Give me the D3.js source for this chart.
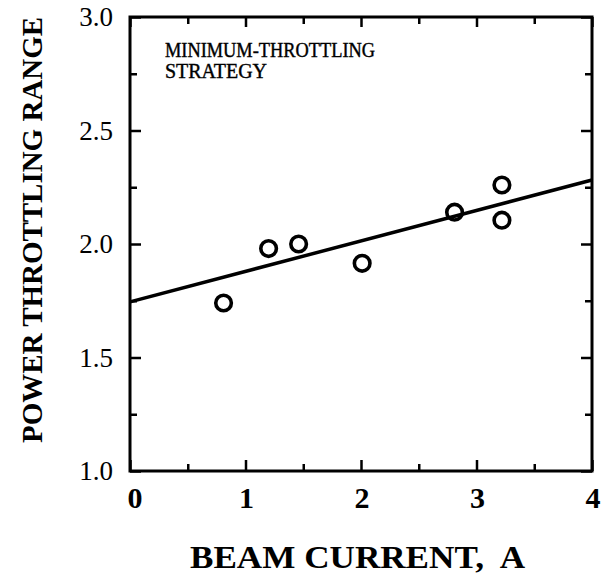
<!DOCTYPE html>
<html lang="en">
<head>
<meta charset="UTF-8">
<title>Power throttling range</title>
<script src="https://cdn.jsdelivr.net/npm/d3@7"></script>
<style>
  body { margin: 0; background: #fff; }
  text { font-family: "Liberation Serif", "Times New Roman", serif; fill: #000; }
</style>
</head>
<body>
<div id="chart"></div>
<script>
// data
const beamCurrent = [0.81, 1.2, 1.46, 2.01, 2.81, 3.22, 3.22];
const throttleRange = [1.74, 1.98, 2.0, 1.915, 2.14, 2.26, 2.105];
// fitted line end points
const fitX = [0, 4];
const fitY = [1.745, 2.282];

const xMajor = [0, 1, 2, 3, 4];
const xMinor = [0.5, 1.5, 2.5, 3.5];
const yMajor = [1.0, 1.5, 2.0, 2.5, 3.0];
const yMinor = [1.25, 1.75, 2.25, 2.75];

const width = 604, height = 576;
const margin = { top: 17, left: 130, right: 12, bottom: 105 };
const w = width - margin.left - margin.right;
const h = height - margin.top - margin.bottom;

const svg = d3.select("#chart").append("svg")
  .attr("width", width).attr("height", height);
const g = svg.append("g").attr("transform", `translate(${margin.left},${margin.top})`);

const x = d3.scaleLinear().domain([0, 4]).range([0, w]);
const y = d3.scaleLinear().domain([1, 3]).range([h, 0]);

// ticks, all pointing inward
function ticks(axis, vals, size, tr) {
  const a = g.append("g").attr("transform", tr)
    .call(axis.tickValues(vals).tickSize(size).tickSizeOuter(0).tickFormat(""));
  a.select(".domain").remove();
  a.selectAll("line").attr("stroke", "#000").attr("stroke-width", 2.5);
  return a;
}
ticks(d3.axisBottom(x), xMajor, -11, `translate(0,${h})`);
ticks(d3.axisBottom(x), xMinor, -7, `translate(0,${h})`);
ticks(d3.axisTop(x), xMajor, -10, "translate(0,0)");
ticks(d3.axisTop(x), xMinor, -7, "translate(0,0)");
ticks(d3.axisLeft(y), yMajor, -11, "translate(0,0)");
ticks(d3.axisLeft(y), yMinor, -7, "translate(0,0)");
ticks(d3.axisRight(y), yMajor, -11, `translate(${w},0)`);
ticks(d3.axisRight(y), yMinor, -7, `translate(${w},0)`);

// frame
g.append("rect").attr("width", w).attr("height", h)
  .attr("fill", "none").attr("stroke", "#000").attr("stroke-width", 3);

// tick labels
g.selectAll(".ylab").data(yMajor).enter().append("text")
  .attr("x", -17).attr("y", d => y(d)).attr("dy", "0.35em")
  .attr("text-anchor", "end").attr("font-size", 27)
  .text(d => d3.format(".1f")(d));

g.selectAll(".xlab").data(xMajor).enter().append("text")
  .attr("x", d => x(d) + (d === 0 ? 5 : 1)).attr("y", h + 37)
  .attr("text-anchor", "middle").attr("font-size", 30).attr("font-weight", "bold")
  .text(d => d);

// fitted line
g.append("line")
  .attr("x1", x(fitX[0])).attr("y1", y(fitY[0]))
  .attr("x2", x(fitX[1])).attr("y2", y(fitY[1]))
  .attr("stroke", "#000").attr("stroke-width", 3.5);

// data points
g.selectAll("circle").data(beamCurrent).enter().append("circle")
  .attr("cx", d => x(d)).attr("cy", (d, i) => y(throttleRange[i]))
  .attr("r", 7.8).attr("fill", "none").attr("stroke", "#000").attr("stroke-width", 3.6);

// annotation
const note = g.append("text").attr("font-size", 20)
  .attr("stroke", "#000").attr("stroke-width", 0.4);
note.append("tspan").attr("x", 35).attr("y", 40)
  .attr("textLength", 210).attr("lengthAdjust", "spacingAndGlyphs").text("MINIMUM-THROTTLING");
note.append("tspan").attr("x", 35).attr("y", 61)
  .attr("textLength", 102).attr("lengthAdjust", "spacingAndGlyphs").text("STRATEGY");

// axis titles
svg.append("text")
  .attr("x", 190).attr("y", 568)
  .attr("font-size", 31).attr("font-weight", "bold")
  .attr("textLength", 335).attr("lengthAdjust", "spacingAndGlyphs")
  .style("white-space", "pre")
  .text("BEAM CURRENT,  A");

svg.append("text")
  .attr("transform", "translate(42,443) rotate(-90)")
  .attr("font-size", 30).attr("font-weight", "bold")
  .attr("textLength", 426).attr("lengthAdjust", "spacingAndGlyphs")
  .text("POWER THROTTLING RANGE");
</script>
</body>
</html>
